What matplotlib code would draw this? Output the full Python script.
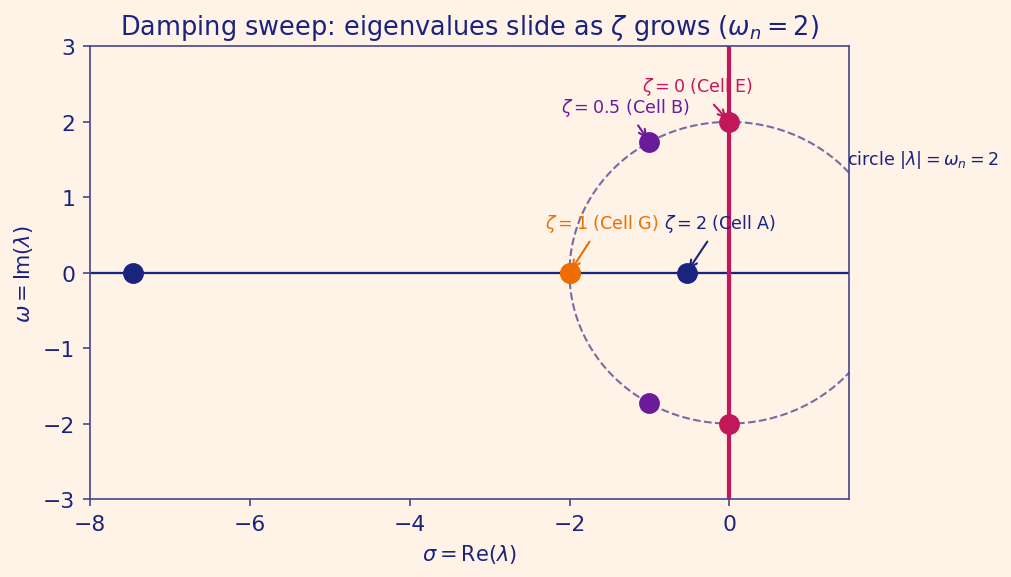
import matplotlib
matplotlib.use("Agg")
import matplotlib.pyplot as plt
import numpy as np

wn = 2.0
zetas = [2.0, 1.0, 0.5, 0.0]
cells = ["A", "G", "B", "E"]
colors = ["#1a237e", "#ef6c00", "#6a1b9a", "#c2185b"]

# eigenvalues (one pair per damping value)
re_vals = [[-0.536, -7.464], [-2.0, -2.0], [-1.0, -1.0], [0.0, 0.0]]
im_vals = [[0.0, 0.0], [0.0, 0.0], [1.732, -1.732], [2.0, -2.0]]

# label placement for each annotated eigenvalue (data coords)
label_xy = {2.0: (-0.12, 0.66), 1.0: (-1.6, 0.66), 0.5: (-1.3, 2.2), 0.0: (-0.4, 2.47)}
arrow_target = {2.0: (-0.536, 0.0), 1.0: (-2.0, 0.0), 0.5: (-1.0, 1.732), 0.0: (0.0, 2.0)}

bg = "#fff3e8"
navy = "#1a237e"
spine_c = "#45458a"

fig, ax = plt.subplots(figsize=(6.74, 3.853), dpi=150)
fig.patch.set_facecolor(bg)
ax.set_facecolor(bg)

ax.axhline(0, color=navy, lw=1.1, zorder=1)
ax.axvline(0, color="#c2185b", lw=2.0, zorder=1)

t = np.linspace(0, 2 * np.pi, 400)
ax.plot(wn * np.cos(t), wn * np.sin(t), ls="--", color="#7a6aa0", lw=1.0, zorder=2)

for z, c, re, im in zip(zetas, colors, re_vals, im_vals):
    ax.plot(re, im, "o", color=c, ms=9, zorder=4, ls="none")

for z, cell, c in zip(zetas, cells, colors):
    zs = "%g" % z
    ax.annotate(r"$\zeta = %s$ (Cell %s)" % (zs, cell), xy=arrow_target[z],
                xytext=label_xy[z], ha="center", va="center", color=c, fontsize=8.4,
                arrowprops=dict(arrowstyle="->", color=c, lw=1.0, shrinkB=2),
                zorder=5)

ax.text(1.47, 1.51, r"circle $|\lambda| = \omega_n = 2$", color=navy, fontsize=8.4,
        ha="left", va="center", clip_on=False)

ax.set_xlim(-8, 1.5)
ax.set_ylim(-3, 3)
ax.set_xticks([-8, -6, -4, -2, 0])
ax.set_yticks([-3, -2, -1, 0, 1, 2, 3])

ax.set_xlabel(r"$\sigma = \mathrm{Re}(\lambda)$", color=navy, fontsize=10)
ax.set_ylabel(r"$\omega = \mathrm{Im}(\lambda)$", color=navy, fontsize=10)
ax.set_title(r"Damping sweep: eigenvalues slide as $\zeta$ grows ($\omega_n = 2$)",
             color=navy, fontsize=12.3)

for s in ax.spines.values():
    s.set_color(spine_c)
ax.tick_params(colors=spine_c, labelcolor=navy, labelsize=10.5)

fig.subplots_adjust(left=0.089, right=0.84, top=0.918, bottom=0.135)
fig.savefig("out.png", dpi=150, facecolor=bg)
